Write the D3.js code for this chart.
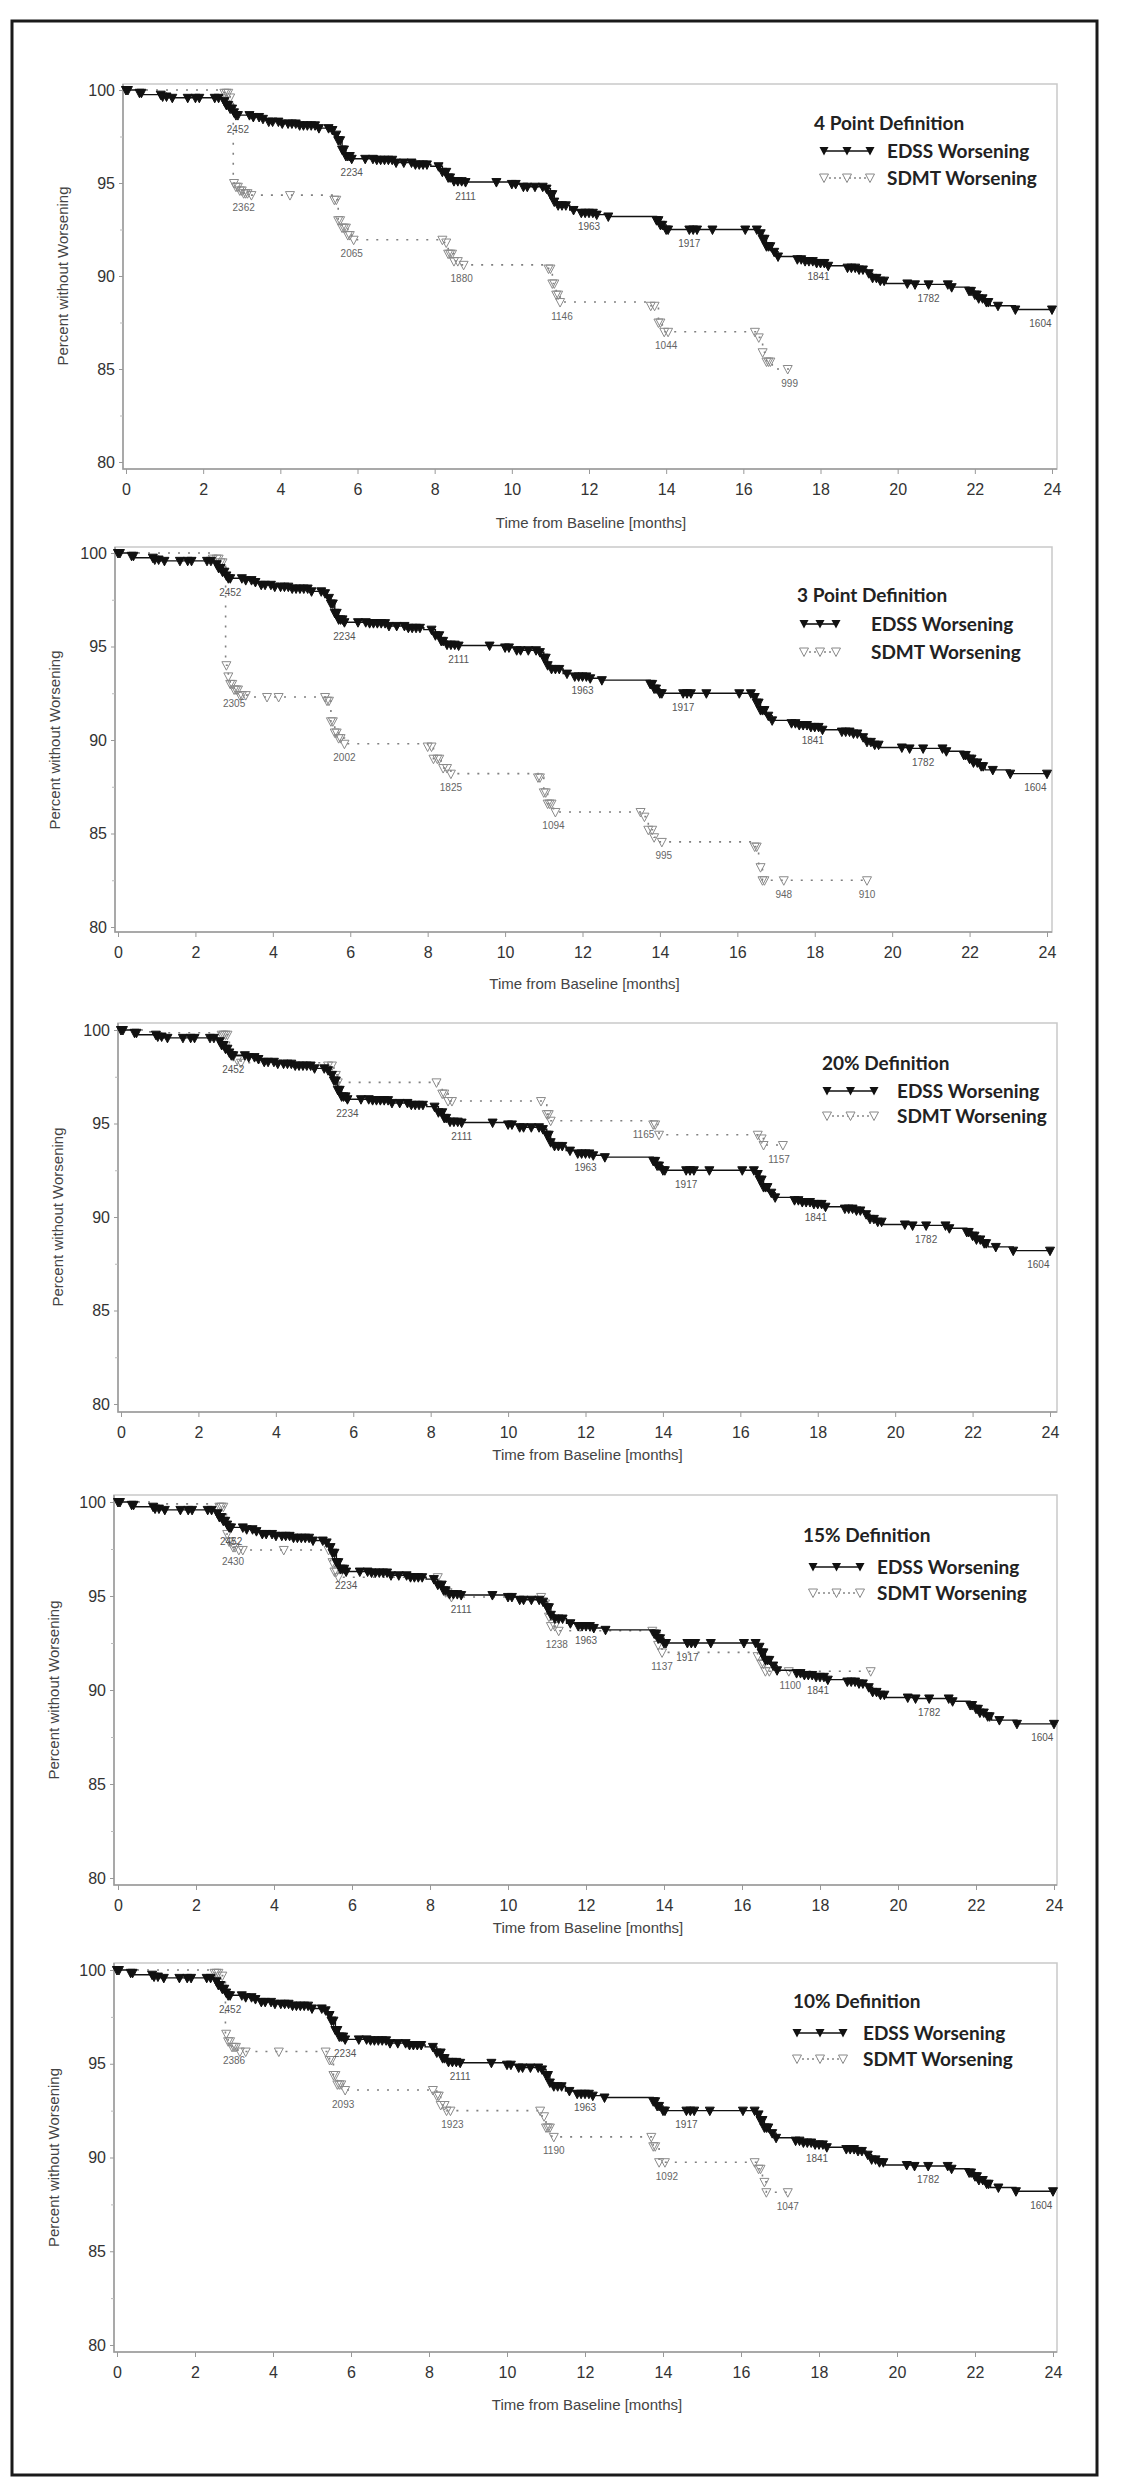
<!DOCTYPE html>
<html>
<head>
<meta charset="utf-8">
<script src="https://cdn.jsdelivr.net/npm/d3@7"></script>
<style>
  body { margin: 0; background: #fff; }
</style>
</head>
<body>
<script>
// ---- data ----
const definitions = ["4 Point Definition", "3 Point Definition", "20% Definition", "15% Definition", "10% Definition"];
const xTicks = [0, 2, 4, 6, 8, 10, 12, 14, 16, 18, 20, 22, 24];
const yTicks = [80, 85, 90, 95, 100];
const yMinorTicks = [82.5, 87.5, 92.5, 97.5];

// EDSS worsening, same curve in every panel
const edssTime = [0, 0.35, 0.45, 0.95, 1.1, 2.5, 2.6, 2.7, 2.78, 2.85, 3.3, 3.5, 3.7, 4.0, 4.5, 5.0, 5.3, 5.4, 5.5, 5.6, 5.7, 5.85,
  6.5, 7.0, 7.5, 7.9, 8.2, 8.35, 8.5, 8.8, 10.0, 10.3, 10.9, 11.0, 11.1, 11.2, 11.5, 11.8, 12.2, 12.5, 13.75, 13.85, 14.0,
  16.4, 16.5, 16.6, 16.75, 16.9, 17.4, 17.6, 17.9, 18.2, 18.7, 19.0, 19.2, 19.35, 19.5, 19.7, 20.4, 21.4, 21.85, 22.0, 22.1, 22.25, 22.4, 23.05];
const edssSurv = [100, 99.85, 99.75, 99.65, 99.58, 99.4, 99.2, 99.0, 98.8, 98.65, 98.55, 98.45, 98.3, 98.2, 98.1, 97.95, 97.85, 97.6, 97.3, 96.8, 96.45, 96.3,
  96.25, 96.1, 96.0, 95.9, 95.6, 95.3, 95.1, 95.05, 94.95, 94.8, 94.7, 94.4, 94.0, 93.8, 93.55, 93.4, 93.3, 93.2, 93.0, 92.75, 92.5,
  92.3, 92.0, 91.6, 91.3, 91.05, 90.9, 90.8, 90.7, 90.55, 90.45, 90.35, 90.15, 89.9, 89.75, 89.6, 89.55, 89.4, 89.2, 89.0, 88.8, 88.6, 88.4, 88.2];
const edssEnd = 24;
const edssCensor = [0.0, 0.05, 0.35, 0.4, 0.9, 0.95, 1.05, 1.2, 1.6, 1.8, 1.9, 2.3, 2.4, 2.55, 2.6, 2.65, 2.7, 2.75, 2.8, 2.85, 2.9,
  3.2, 3.3, 3.45, 3.55, 3.7, 3.8, 3.95, 4.05, 4.2, 4.3, 4.4, 4.5, 4.6, 4.7, 4.8, 4.9, 5.0, 5.25, 5.35, 5.45, 5.5, 5.55, 5.6, 5.65,
  5.7, 5.75, 5.8, 5.85, 6.2, 6.4, 6.5, 6.6, 6.7, 6.8, 6.9, 7.0, 7.2, 7.4, 7.5, 7.6, 7.7, 7.8, 8.1, 8.2, 8.3, 8.35, 8.4, 8.5, 8.6,
  8.7, 8.8, 9.6, 10.0, 10.1, 10.3, 10.4, 10.6, 10.8, 10.9, 11.0, 11.05, 11.1, 11.2, 11.3, 11.4, 11.6, 11.8, 11.9, 12.0, 12.1, 12.2,
  12.5, 13.75, 13.8, 13.85, 13.9, 14.0, 14.05, 14.6, 14.7, 14.8, 15.2, 16.05, 16.35, 16.45, 16.5, 16.55, 16.6, 16.65, 16.7, 16.8,
  16.9, 17.4, 17.5, 17.6, 17.7, 17.8, 17.9, 18.0, 18.1, 18.2, 18.7, 18.8, 18.9, 19.0, 19.1, 19.25, 19.35, 19.45, 19.55, 19.65,
  20.25, 20.45, 20.8, 21.3, 21.4, 21.85, 21.9, 22.0, 22.05, 22.1, 22.2, 22.3, 22.35, 22.6, 23.05, 24.0];
const edssRiskN = ["2452", "2234", "2111", "1963", "1917", "1841", "1782", "1604"];
const edssRiskT = [2.9, 5.85, 8.8, 12.0, 14.6, 17.95, 20.8, 23.7];

// SDMT worsening, 4 point definition
const sdmt4Time = [0, 2.55, 2.7, 2.78, 2.85, 2.95, 3.05, 3.2, 5.4, 5.5, 5.6, 5.75, 5.85, 8.25, 8.35, 8.5, 8.7, 10.95, 11.05, 11.15, 11.25, 13.6, 13.8, 13.9, 16.35, 16.5, 16.6, 16.75];
const sdmt4Surv = [100, 99.85, 99.6, 95.0, 94.8, 94.6, 94.45, 94.35, 94.1, 93.0, 92.6, 92.2, 91.95, 91.8, 91.2, 90.8, 90.6, 90.4, 89.6, 89.0, 88.6, 88.4, 87.5, 87.0, 86.7, 85.9, 85.4, 85.0];
const sdmt4End = 17.2;
const sdmt4Censor = [0.0, 2.55, 2.6, 2.65, 2.7, 2.8, 2.85, 2.9, 2.95, 3.0, 3.05, 3.1, 3.15, 3.25, 4.25, 5.4, 5.45, 5.5, 5.55, 5.6, 5.65, 5.7, 5.75, 5.8, 5.9,
  8.2, 8.3, 8.35, 8.4, 8.45, 8.5, 8.6, 8.75, 10.95, 11.0, 11.05, 11.1, 11.15, 11.2, 11.25, 13.6, 13.7, 13.8, 13.85, 13.95, 14.05, 16.3, 16.4, 16.5, 16.6, 16.65, 16.7, 17.15];
const sdmt4RiskN = ["2362", "2065", "1880", "1146", "1044", "999"];
const sdmt4RiskT = [3.05, 5.85, 8.7, 11.3, 14.0, 17.2];

// SDMT worsening, 3 point definition
const sdmt3Time = [0, 2.45, 2.65, 2.78, 2.85, 2.9, 3.0, 3.15, 3.35, 5.4, 5.5, 5.6, 5.7, 5.85, 8.0, 8.15, 8.35, 8.6, 10.85, 11.0, 11.1, 11.25, 13.55, 13.7, 13.85, 14.0, 16.45, 16.55, 16.65];
const sdmt3Surv = [100, 99.7, 99.5, 94.0, 93.4, 93.0, 92.7, 92.4, 92.3, 92.1, 91.0, 90.4, 90.1, 89.8, 89.65, 89.0, 88.5, 88.2, 88.0, 87.2, 86.6, 86.15, 85.9, 85.2, 84.8, 84.55, 84.3, 83.2, 82.5];
const sdmt3End = 19.35;
const sdmt3Censor = [0.0, 2.45, 2.55, 2.6, 2.65, 2.7, 2.8, 2.85, 2.9, 2.95, 3.0, 3.05, 3.1, 3.15, 3.2, 3.3, 3.85, 4.15, 5.35, 5.4, 5.45, 5.5, 5.55, 5.6, 5.65, 5.7, 5.75, 5.85,
  8.0, 8.1, 8.15, 8.25, 8.3, 8.4, 8.5, 8.6, 10.85, 10.9, 11.0, 11.05, 11.1, 11.15, 11.2, 11.3, 13.5, 13.6, 13.7, 13.8, 13.85, 14.05, 16.45, 16.5, 16.6, 16.65, 16.7, 17.2, 19.35];
const sdmt3RiskN = ["2305", "2002", "1825", "1094", "995", "948", "910"];
const sdmt3RiskT = [3.0, 5.85, 8.6, 11.25, 14.1, 17.2, 19.35];

// SDMT worsening, 20% definition
const sdmt20Time = [0, 0.6, 1.0, 2.6, 2.8, 2.95, 3.1, 5.35, 5.5, 5.6, 8.2, 8.3, 8.45, 10.9, 11.0, 11.1, 13.75, 13.9, 16.5, 16.6];
const sdmt20Surv = [100, 99.9, 99.85, 99.75, 98.6, 98.4, 98.25, 98.1, 97.6, 97.2, 97.05, 96.6, 96.2, 96.0, 95.5, 95.15, 94.95, 94.4, 94.2, 93.85];
const sdmt20End = 17.1;
const sdmt20Censor = [0.0, 2.6, 2.65, 2.7, 2.75, 2.9, 3.0, 3.1, 5.35, 5.45, 5.55, 5.6, 8.15, 8.3, 8.35, 8.45, 8.55, 10.85, 11.0, 11.05, 11.1, 13.75, 13.8, 13.9, 16.45, 16.55, 16.6, 17.1];
const sdmt20RiskN = ["1165", "1157"];
const sdmt20RiskT = [13.5, 17.0];

// SDMT worsening, 15% definition
const sdmt15Time = [0, 0.8, 2.6, 2.78, 2.85, 2.95, 3.1, 5.45, 5.55, 5.65, 8.25, 8.35, 8.5, 10.9, 11.0, 11.1, 11.25, 13.75, 13.85, 13.95, 16.4, 16.5, 16.6];
const sdmt15Surv = [100, 99.9, 99.75, 98.3, 97.9, 97.6, 97.45, 96.8, 96.3, 96.0, 95.6, 95.2, 94.95, 94.6, 93.9, 93.4, 93.15, 92.9, 92.4, 92.0, 91.8, 91.4, 91.0];
const sdmt15End = 19.3;
const sdmt15Censor = [0.0, 2.6, 2.65, 2.7, 2.8, 2.85, 2.9, 2.95, 3.0, 3.1, 3.2, 4.25, 5.4, 5.5, 5.55, 5.6, 5.65, 8.2, 8.3, 8.4, 8.45, 8.55,
  10.85, 10.95, 11.05, 11.1, 11.2, 11.3, 13.7, 13.8, 13.85, 13.95, 16.4, 16.5, 16.55, 16.6, 16.7, 17.2, 19.3];
const sdmt15RiskN = ["2430", "1238", "1137", "1100"];
const sdmt15RiskT = [2.95, 11.25, 13.95, 17.24];

// SDMT worsening, 10% definition
const sdmt10Time = [0, 2.5, 2.7, 2.78, 2.85, 2.95, 3.1, 5.45, 5.55, 5.65, 5.8, 8.2, 8.3, 8.45, 10.9, 11.0, 11.15, 13.75, 13.9, 16.45, 16.55, 16.65];
const sdmt10Surv = [100, 99.85, 99.7, 96.6, 96.2, 95.9, 95.65, 95.2, 94.4, 93.9, 93.6, 93.3, 92.8, 92.5, 92.2, 91.6, 91.1, 90.6, 89.75, 89.4, 88.7, 88.15];
const sdmt10End = 17.2;
const sdmt10Censor = [0.0, 2.5, 2.55, 2.6, 2.7, 2.8, 2.85, 2.9, 2.95, 3.0, 3.05, 3.15, 3.3, 4.15, 5.35, 5.45, 5.5, 5.55, 5.6, 5.65, 5.7, 5.75, 5.85,
  8.1, 8.2, 8.25, 8.3, 8.4, 8.45, 8.55, 10.85, 10.95, 11.0, 11.05, 11.1, 11.2, 13.7, 13.75, 13.8, 13.9, 14.05, 16.35, 16.45, 16.5, 16.6, 16.65, 17.2];
const sdmt10RiskN = ["2386", "2093", "1923", "1190", "1092", "1047"];
const sdmt10RiskT = [3.0, 5.8, 8.6, 11.2, 14.1, 17.2];

// ---- layout ----
const width = 1123;
const height = 2489;
const fontAxis = "'Liberation Sans', Arial, sans-serif";
const fontLegend = "Lato, 'Open Sans', sans-serif";

const edss = {time: edssTime, surv: edssSurv, end: edssEnd, censor: edssCensor, riskN: edssRiskN, riskT: edssRiskT};
const sdmt = [
  {time: sdmt4Time, surv: sdmt4Surv, end: sdmt4End, censor: sdmt4Censor, riskN: sdmt4RiskN, riskT: sdmt4RiskT},
  {time: sdmt3Time, surv: sdmt3Surv, end: sdmt3End, censor: sdmt3Censor, riskN: sdmt3RiskN, riskT: sdmt3RiskT},
  {time: sdmt20Time, surv: sdmt20Surv, end: sdmt20End, censor: sdmt20Censor, riskN: sdmt20RiskN, riskT: sdmt20RiskT},
  {time: sdmt15Time, surv: sdmt15Surv, end: sdmt15End, censor: sdmt15Censor, riskN: sdmt15RiskN, riskT: sdmt15RiskT},
  {time: sdmt10Time, surv: sdmt10Surv, end: sdmt10End, censor: sdmt10Censor, riskN: sdmt10RiskN, riskT: sdmt10RiskT}
];

// pixel placement of each panel (the scanned figure is not perfectly regular)
const panels = [
  {x0: 126, x24: 1052, y100: 90,   y80: 462,  top: 84,   bottom: 469,  left: 123, right: 1057, xTitleY: 523,
   leg: {titleX: 814, titleY: 123,  tri: [824, 870], textX: 887, row1: 151,  row2: 178}},
  {x0: 118, x24: 1047, y100: 553,  y80: 927,  top: 547,  bottom: 932,  left: 115, right: 1052, xTitleY: 984,
   leg: {titleX: 797, titleY: 595,  tri: [804, 836], textX: 871, row1: 624,  row2: 652}},
  {x0: 121, x24: 1050, y100: 1030, y80: 1404, top: 1023, bottom: 1412, left: 118, right: 1057, xTitleY: 1455,
   leg: {titleX: 822, titleY: 1063, tri: [827, 874], textX: 897, row1: 1091, row2: 1116}},
  {x0: 118, x24: 1054, y100: 1502, y80: 1878, top: 1495, bottom: 1885, left: 114, right: 1057, xTitleY: 1928,
   leg: {titleX: 803, titleY: 1535, tri: [813, 860], textX: 877, row1: 1567, row2: 1593}},
  {x0: 117, x24: 1053, y100: 1970, y80: 2345, top: 1963, bottom: 2352, left: 114, right: 1057, xTitleY: 2405,
   leg: {titleX: 793, titleY: 2001, tri: [797, 843], textX: 863, row1: 2033, row2: 2059}}
];

const triDown = "M-4.5,-4L4.5,-4L0,4.5Z";

const survAt = (s, t) => {
  let v = s.surv[0];
  s.time.forEach((tt, i) => { if (tt <= t + 1e-9) v = s.surv[i]; });
  return v;
};

const svg = d3.create("svg")
  .attr("width", width)
  .attr("height", height)
  .attr("viewBox", [0, 0, width, height]);

svg.append("rect").attr("width", width).attr("height", height).attr("fill", "#fff");

// outer frame
svg.append("rect")
  .attr("x", 12).attr("y", 21)
  .attr("width", 1085).attr("height", 2454)
  .attr("fill", "none")
  .attr("stroke", "#1a1a1a")
  .attr("stroke-width", 3);

panels.forEach((p, i) => {
  const g = svg.append("g");

  const x = d3.scaleLinear().domain([0, 24]).range([p.x0, p.x24]);
  const y = d3.scaleLinear().domain([80, 100]).range([p.y80, p.y100]);

  // plot box
  g.append("rect")
    .attr("x", p.left).attr("y", p.top)
    .attr("width", p.right - p.left).attr("height", p.bottom - p.top)
    .attr("fill", "none")
    .attr("stroke", "#c9c9c9")
    .attr("stroke-width", 1.5);
  g.append("path")
    .attr("d", `M${p.left},${p.top}V${p.bottom}H${p.right}`)
    .attr("fill", "none")
    .attr("stroke", "#9a9a9a")
    .attr("stroke-width", 1.5);

  // axes
  const xAxis = g.append("g")
    .attr("transform", `translate(0,${p.bottom})`)
    .call(d3.axisBottom(x).tickValues(xTicks).tickSize(5).tickPadding(10).tickFormat(d3.format("d")));
  const yAxis = g.append("g")
    .attr("transform", `translate(${p.left},0)`)
    .call(d3.axisLeft(y).tickValues(yTicks).tickSize(4).tickPadding(4).tickFormat(d3.format("d")));
  g.append("g")
    .attr("transform", `translate(${p.left},0)`)
    .call(d3.axisLeft(y).tickValues(yMinorTicks).tickSize(3).tickFormat(""))
    .call(a => a.select(".domain").remove())
    .selectAll("line").attr("stroke", "#bbb");

  [xAxis, yAxis].forEach(a => {
    a.select(".domain").remove();
    a.selectAll("line").attr("stroke", "#999");
    a.selectAll("text")
      .attr("fill", "#333")
      .style("font-family", fontAxis)
      .style("font-size", "16px");
  });

  // axis titles
  g.append("text")
    .attr("transform", `translate(${p.left - 60},${(p.y80 + p.y100) / 2}) rotate(-90)`)
    .attr("text-anchor", "middle")
    .attr("dy", "0.35em")
    .attr("fill", "#444")
    .style("font-family", fontAxis)
    .style("font-size", "15px")
    .text("Percent without Worsening");

  g.append("text")
    .attr("x", (p.x0 + p.x24) / 2 + 2)
    .attr("y", p.xTitleY)
    .attr("text-anchor", "middle")
    .attr("dy", "0.35em")
    .attr("fill", "#444")
    .style("font-family", fontAxis)
    .style("font-size", "15px")
    .text("Time from Baseline [months]");

  const stepLine = d3.line()
    .x(d => x(d[0]))
    .y(d => y(d[1]))
    .curve(d3.curveStepAfter);

  const drawCurve = (s, opt) => {
    const pts = s.time.map((t, k) => [t, s.surv[k]]);
    pts.push([s.end, s.surv[s.surv.length - 1]]);
    g.append("path")
      .datum(pts)
      .attr("d", stepLine)
      .attr("fill", "none")
      .attr("stroke", opt.line)
      .attr("stroke-width", opt.lw)
      .attr("stroke-dasharray", opt.dash);

    g.append("g")
      .selectAll("path")
      .data(s.censor)
      .join("path")
      .attr("d", triDown)
      .attr("transform", t => `translate(${x(t)},${y(survAt(s, t)) + 0.5})`)
      .attr("fill", opt.fill)
      .attr("stroke", opt.stroke)
      .attr("stroke-width", 1);

    g.append("g")
      .selectAll("text")
      .data(s.riskN)
      .join("text")
      .attr("x", (n, k) => x(s.riskT[k]))
      .attr("y", (n, k) => y(survAt(s, s.riskT[k])) + 14)
      .attr("dy", "0.35em")
      .attr("text-anchor", "middle")
      .attr("fill", opt.label)
      .style("font-family", fontAxis)
      .style("font-size", "10px")
      .text(n => n);
  };

  drawCurve(sdmt[i], {line: "#808080", lw: 1.6, dash: "2,8", fill: "none", stroke: "#8a8a8a", label: "#666"});
  drawCurve(edss, {line: "#111", lw: 1.4, dash: null, fill: "#111", stroke: "#111", label: "#555"});

  // legend
  const L = p.leg;
  g.append("text")
    .attr("x", L.titleX).attr("y", L.titleY)
    .attr("dy", "0.35em")
    .attr("fill", "#222")
    .style("font-family", fontLegend)
    .style("font-weight", 700)
    .style("font-size", "19px")
    .text(definitions[i]);

  const triX = [L.tri[0], (L.tri[0] + L.tri[1]) / 2, L.tri[1]];
  g.append("line")
    .attr("x1", L.tri[0]).attr("x2", L.tri[1])
    .attr("y1", L.row1).attr("y2", L.row1)
    .attr("stroke", "#111").attr("stroke-width", 1.6);
  g.append("g").selectAll("path").data(triX).join("path")
    .attr("d", triDown)
    .attr("transform", d => `translate(${d},${L.row1})`)
    .attr("fill", "#111");
  g.append("line")
    .attr("x1", L.tri[0]).attr("x2", L.tri[1])
    .attr("y1", L.row2).attr("y2", L.row2)
    .attr("stroke", "#888").attr("stroke-width", 1.5)
    .attr("stroke-dasharray", "2,3");
  g.append("g").selectAll("path").data(triX).join("path")
    .attr("d", triDown)
    .attr("transform", d => `translate(${d},${L.row2})`)
    .attr("fill", "#fff")
    .attr("stroke", "#888");

  [["EDSS Worsening", L.row1], ["SDMT Worsening", L.row2]].forEach(([lab, yy]) => {
    g.append("text")
      .attr("x", L.textX).attr("y", yy)
      .attr("dy", "0.35em")
      .attr("fill", "#222")
      .style("font-family", fontLegend)
      .style("font-weight", 700)
      .style("font-size", "19px")
      .text(lab);
  });
});

d3.select("body").append(() => svg.node());
</script>
</body>
</html>
